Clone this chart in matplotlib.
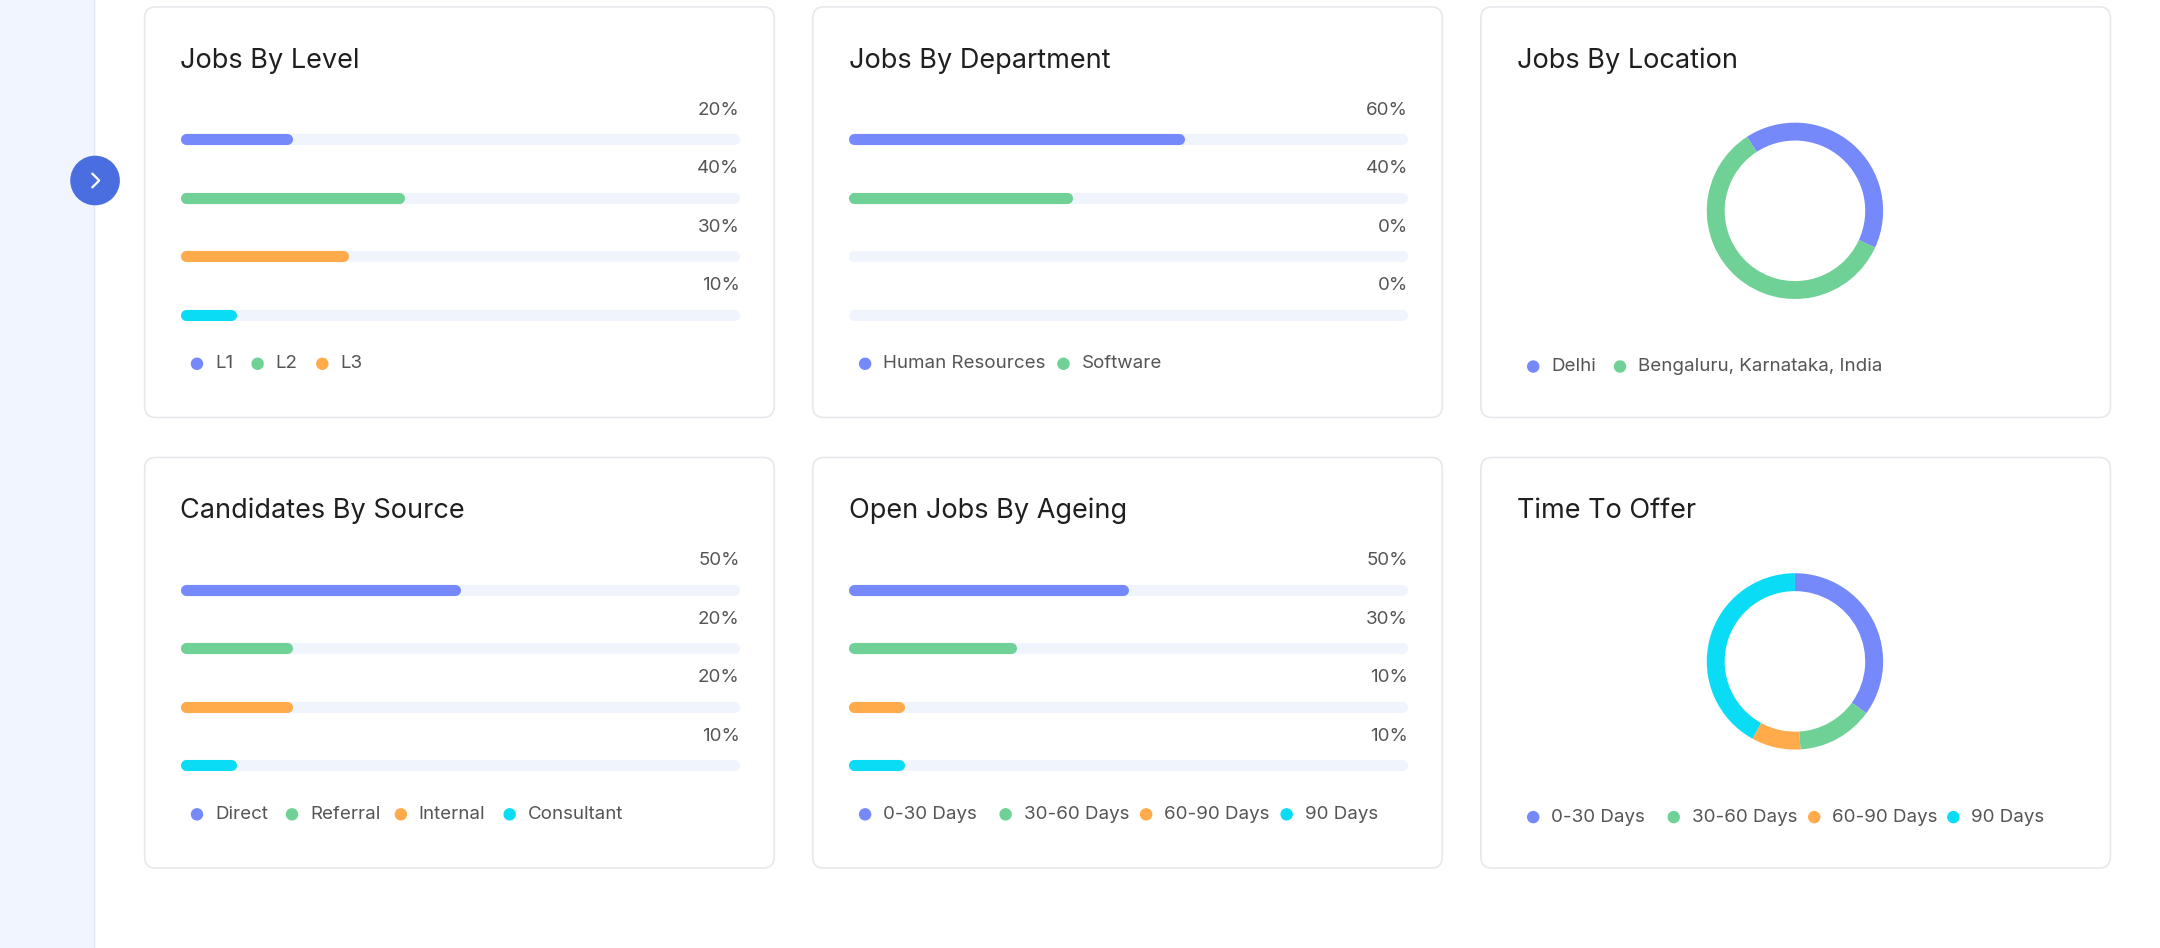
import matplotlib.pyplot as plt
from matplotlib.patches import FancyBboxPatch, Circle, Rectangle

plt.rcParams['font.family'] = ['Inter', 'DejaVu Sans']

BLUE = '#7589fb'
GREEN = '#6fd195'
ORANGE = '#ffab4c'
CYAN = '#0bdcf5'
TRACK = '#f0f4fc'
COLORS = [BLUE, GREEN, ORANGE, CYAN]

# data
level_labels = ['L1', 'L2', 'L3']
level_values = [20, 40, 30, 10]
dept_labels = ['Human Resources', 'Software']
dept_values = [60, 40, 0, 0]
location_labels = ['Delhi', 'Bengaluru, Karnataka, India']
location_values = [41, 59]
source_labels = ['Direct', 'Referral', 'Internal', 'Consultant']
source_values = [50, 20, 20, 10]
ageing_labels = ['0-30 Days', '30-60 Days', '60-90 Days', '90 Days']
ageing_values = [50, 30, 10, 10]
offer_labels = ['0-30 Days', '30-60 Days', '60-90 Days', '90 Days']
offer_values = [35, 14, 9, 42]

W, H = 1568, 688
fig = plt.figure(figsize=(21.6, 9.48), dpi=100)
ax = fig.add_axes([0, 0, 1, 1])
ax.set_aspect('equal')
ax.axis('off')


def Y(y):
    return H - y


# sidebar
ax.add_patch(Rectangle((0, 0), 68, H, color='#f0f5ff', zorder=0))
ax.plot([68.5, 68.5], [0, H], color='#e3e8f4', lw=1)
ax.add_patch(Circle((69, Y(131)), 17.5, color='#4a6ee0', zorder=3))
ax.plot([67, 72, 67], [Y(126), Y(131), Y(136)], color='white', lw=1.6, zorder=4,
        solid_capstyle='round', solid_joinstyle='round')

cols = [105, 590, 1075]
rows = [5, 332]
CW, CH = 457, 298


def card(x, y, title):
    ax.add_patch(FancyBboxPatch((x, Y(y + CH)), CW, CH,
                                boxstyle='round,pad=0,rounding_size=8',
                                fc='white', ec='#e6e8ec', lw=1.2, zorder=1))
    ax.text(x + 26, Y(y + 39), title, fontsize=19.5, color='#1f1f1f',
            va='center', ha='left', zorder=5)


def bars(x, y, values):
    x0, x1 = x + 26 + 4, x + 432 - 4
    for i, v in enumerate(values):
        by = Y(y + 96 + i * 42.5)
        ax.plot([x0, x1], [by, by], color=TRACK, lw=8, solid_capstyle='round', zorder=2)
        if v > 0:
            ax.plot([x0, x0 + (x1 - x0 + 8) * v / 100 - 8], [by, by], color=COLORS[i],
                    lw=8, solid_capstyle='round', zorder=3)
        ax.text(x + 432, by + 21, f'{v}%', fontsize=13.5, color='#555555',
                ha='right', va='center', zorder=5)


def legend(y, dots, labels):
    for i, (dx, lab) in enumerate(zip(dots, labels)):
        ax.add_patch(Circle((dx, Y(y)), 4, color=COLORS[i], zorder=5))
        ax.text(dx + 13, Y(y), lab, fontsize=13.5, color='#555555',
                ha='left', va='center', zorder=5)


def donut(cx, cy, values, start):
    ax.pie(values, colors=COLORS[:len(values)], center=(cx, Y(cy)), radius=64,
           startangle=start, counterclock=False,
           wedgeprops=dict(width=13, edgecolor='none'))


card(cols[0], rows[0], 'Jobs By Level')
bars(cols[0], rows[0], level_values)
legend(264, [143, 187, 234], level_labels)

card(cols[1], rows[0], 'Jobs By Department')
bars(cols[1], rows[0], dept_values)
legend(264, [628, 772], dept_labels)

card(cols[2], rows[0], 'Jobs By Location')
donut(1303, 153, location_values, 123)
legend(266, [1113, 1176], location_labels)

card(cols[0], rows[1], 'Candidates By Source')
bars(cols[0], rows[1], source_values)
legend(591, [143, 212, 291, 370], source_labels)

card(cols[1], rows[1], 'Open Jobs By Ageing')
bars(cols[1], rows[1], ageing_values)
legend(591, [628, 730, 832, 934], ageing_labels)

card(cols[2], rows[1], 'Time To Offer')
donut(1303, 480, offer_values, 90)
legend(593, [1113, 1215, 1317, 1418], offer_labels)

ax.set_xlim(0, W)
ax.set_ylim(0, H)
ax.set_aspect('auto')
ax.set_position([0, 0, 1, 1])
fig.savefig('out.png', dpi=100, facecolor='white')
